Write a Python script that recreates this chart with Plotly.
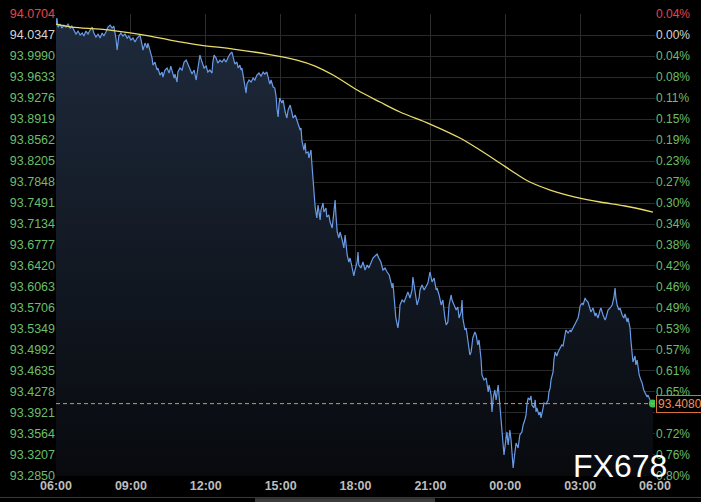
import plotly.graph_objects as go

# ---- data ----
minutes = [
    0, 2, 5, 10, 14, 19, 24, 29, 34, 38, 43, 48, 53, 58, 63, 67, 72, 77, 82, 87,
    91, 96, 101, 106, 111, 115, 120, 125, 130, 135, 139, 142, 144, 147, 149, 151, 156, 161, 166, 171,
    175, 180, 185, 190, 195, 200, 202, 207, 209, 214, 219, 221, 226, 231, 233, 238, 243, 245, 250, 255,
    257, 262, 267, 272, 276, 279, 284, 286, 291, 293, 298, 303, 308, 313, 317, 322, 327, 332, 337, 339,
    344, 346, 351, 356, 361, 365, 370, 375, 377, 380, 385, 389, 394, 399, 404, 409, 413, 418, 423, 426,
    430, 435, 438, 442, 445, 447, 452, 454, 457, 459, 464, 469, 474, 478, 483, 488, 493, 498, 502, 507,
    510, 514, 517, 522, 526, 529, 531, 534, 536, 538, 543, 546, 551, 555, 558, 563, 567, 570, 575, 579,
    582, 587, 589, 591, 596, 599, 601, 606, 608, 613, 615, 618, 620, 623, 627, 630, 635, 637, 642, 644,
    649, 651, 656, 659, 664, 666, 671, 673, 676, 680, 683, 688, 692, 695, 700, 704, 707, 712, 716, 719,
    724, 726, 728, 733, 738, 743, 748, 752, 757, 762, 767, 772, 776, 781, 786, 791, 796, 801, 805, 808,
    810, 815, 817, 822, 825, 827, 832, 837, 841, 846, 851, 856, 858, 861, 865, 868, 873, 875, 880, 885,
    889, 894, 899, 904, 909, 914, 916, 921, 926, 930, 935, 938, 942, 945, 950, 952, 957, 962, 966, 969,
    974, 976, 978, 983, 986, 990, 995, 998, 1002, 1007, 1010, 1014, 1017, 1022, 1024, 1029, 1034, 1039, 1041, 1046,
    1048, 1051, 1055, 1058, 1063, 1065, 1067, 1070, 1072, 1075, 1077, 1079, 1082, 1084, 1087, 1089, 1091, 1094, 1096, 1099,
    1101, 1103, 1106, 1111, 1113, 1115, 1120, 1123, 1127, 1130, 1132, 1135, 1139, 1142, 1144, 1149, 1152, 1154, 1156, 1161,
    1164, 1166, 1171, 1173, 1178, 1183, 1185, 1188, 1190, 1195, 1197, 1200, 1204, 1207, 1212, 1216, 1219, 1224, 1226, 1231,
    1236, 1238, 1243, 1248, 1250, 1255, 1257, 1260, 1265, 1267, 1272, 1274, 1279, 1284, 1286, 1291, 1296, 1298, 1303, 1308,
    1310, 1315, 1320, 1322, 1325, 1327, 1332, 1337, 1341, 1344, 1346, 1349, 1353, 1356, 1361, 1365, 1368, 1373, 1375, 1380,
    1382, 1385, 1387, 1392, 1394, 1397, 1402, 1406, 1409, 1413, 1416, 1421, 1423, 1428, 1430, 1435,
]
prices = [
    94.0517, 94.0636, 94.0483, 94.0534, 94.0466, 94.0517, 94.0483, 94.0534, 94.0466, 94.0500,
    94.0432, 94.0364, 94.0415, 94.0347, 94.0381, 94.0330, 94.0415, 94.0364, 94.0432, 94.0483,
    94.0381, 94.0313, 94.0364, 94.0296, 94.0381, 94.0330, 94.0398, 94.0483, 94.0517, 94.0466,
    94.0500, 94.0398, 94.0296, 94.0092, 94.0177, 94.0330, 94.0381, 94.0330, 94.0364, 94.0296,
    94.0330, 94.0262, 94.0296, 94.0228, 94.0296, 94.0330, 94.0347, 94.0177, 94.0092, 94.0211,
    94.0126, 94.0211, 94.0058, 93.9956, 93.9837, 93.9888, 93.9752, 93.9786, 93.9667, 93.9718,
    93.9633, 93.9752, 93.9786, 93.9701, 93.9820, 93.9752, 93.9616, 93.9684, 93.9548, 93.9718,
    93.9786, 93.9752, 93.9888, 93.9922, 93.9854, 93.9786, 93.9684, 93.9752, 93.9582, 93.9684,
    93.9922, 94.0007, 93.9888, 93.9786, 93.9820, 93.9718, 93.9752, 93.9701, 93.9888, 94.0007,
    93.9956, 93.9871, 93.9922, 93.9888, 93.9939, 93.9888, 93.9956, 94.0024, 94.0058, 93.9956,
    93.9854, 93.9888, 93.9786, 93.9837, 93.9752, 93.9786, 93.9582, 93.9446, 93.9361, 93.9514,
    93.9582, 93.9548, 93.9616, 93.9582, 93.9667, 93.9701, 93.9650, 93.9718, 93.9684, 93.9718,
    93.9616, 93.9514, 93.9582, 93.9463, 93.9446, 93.9310, 93.9106, 93.8953, 93.9157, 93.9276,
    93.9191, 93.9242, 93.9038, 93.8936, 93.9072, 93.9157, 93.9038, 93.8936, 93.8987, 93.8902,
    93.8834, 93.8732, 93.8766, 93.8562, 93.8392, 93.8511, 93.8341, 93.8358, 93.8256, 93.8392,
    93.8171, 93.7882, 93.7627, 93.7423, 93.7236, 93.7457, 93.7202, 93.7372, 93.7491, 93.7338,
    93.7406, 93.7253, 93.7287, 93.7168, 93.7066, 93.7202, 93.7542, 93.7287, 93.6998, 93.6896,
    93.6998, 93.6862, 93.6726, 93.6947, 93.6607, 93.6488, 93.6556, 93.6386, 93.6250, 93.6352,
    93.6488, 93.6658, 93.6437, 93.6386, 93.6488, 93.6352, 93.6437, 93.6386, 93.6488, 93.6556,
    93.6590, 93.6624, 93.6556, 93.6488, 93.6352, 93.6386, 93.6318, 93.6267, 93.6148, 93.6046,
    93.6131, 93.5757, 93.5536, 93.5366, 93.5536, 93.5757, 93.5842, 93.5808, 93.5893, 93.5978,
    93.5876, 93.6012, 93.6233, 93.6097, 93.5927, 93.5757, 93.5876, 93.6012, 93.6097, 93.6012,
    93.6063, 93.6131, 93.6318, 93.6148, 93.6216, 93.6012, 93.6046, 93.5927, 93.5757, 93.5842,
    93.5536, 93.5417, 93.5468, 93.5757, 93.5927, 93.5842, 93.5757, 93.5672, 93.5723, 93.5536,
    93.5638, 93.5842, 93.5536, 93.5332, 93.5366, 93.5162, 93.4907, 93.4958, 93.5196, 93.5298,
    93.5247, 93.5077, 93.5162, 93.4822, 93.4567, 93.4482, 93.4516, 93.4278, 93.4397, 93.4227,
    93.3938, 93.4176, 93.4312, 93.4142, 93.4397, 93.4227, 93.4057, 93.3802, 93.3547, 93.3292,
    93.3207, 93.3326, 93.3462, 93.3598, 93.3377, 93.3496, 93.3632, 93.3462, 93.3207, 93.2986,
    93.3122, 93.3292, 93.3411, 93.3326, 93.3462, 93.3547, 93.3598, 93.3717, 93.3802, 93.3887,
    93.4057, 93.4176, 93.4142, 93.4210, 93.4057, 93.4006, 93.4142, 93.3938, 93.4006, 93.3887,
    93.3938, 93.3836, 93.4006, 93.4091, 93.4074, 93.4142, 93.4278, 93.4346, 93.4482, 93.4618,
    93.4822, 93.4958, 93.4890, 93.4958, 93.5026, 93.5077, 93.5060, 93.5247, 93.5332, 93.5281,
    93.5332, 93.5298, 93.5366, 93.5434, 93.5468, 93.5536, 93.5604, 93.5740, 93.5791, 93.5757,
    93.5876, 93.5842, 93.5808, 93.5706, 93.5638, 93.5706, 93.5570, 93.5621, 93.5536, 93.5672,
    93.5706, 93.5587, 93.5502, 93.5536, 93.5638, 93.5672, 93.5706, 93.5757, 93.5876, 93.6046,
    93.5876, 93.5757, 93.5672, 93.5706, 93.5587, 93.5536, 93.5604, 93.5468, 93.5536, 93.5366,
    93.5162, 93.4856, 93.4788, 93.4890, 93.4737, 93.4822, 93.4567, 93.4482, 93.4431, 93.4312,
    93.4261, 93.4193, 93.4227, 93.4142, 93.4108, 93.4080,
]
avg_minutes = [0, 38, 106, 147, 226, 274, 346, 426, 507, 579, 623, 666, 724, 779, 827,
               899, 971, 1019, 1067, 1103, 1139, 1188, 1248, 1308, 1368, 1435]
avg_prices = [94.0534, 94.0483, 94.0449, 94.0415, 94.0330, 94.0262, 94.0177, 94.0109, 94.0024,
              93.9922, 93.9820, 93.9667, 93.9412, 93.9208, 93.9038, 93.8834, 93.8596, 93.8392,
              93.8171, 93.8001, 93.7848, 93.7712, 93.7593, 93.7508, 93.7440, 93.7338]

last_price = 93.4080
x_tick_vals = [0, 180, 360, 540, 720, 900, 1080, 1260, 1440]
x_tick_text = ["06:00", "09:00", "12:00", "15:00", "18:00", "21:00", "00:00", "03:00", "06:00"]
y_tick_vals = [94.0704, 94.0347, 93.9990, 93.9633, 93.9276, 93.8919, 93.8562, 93.8205,
               93.7848, 93.7491, 93.7134, 93.6777, 93.6420, 93.6063, 93.5706, 93.5349,
               93.4992, 93.4635, 93.4278, 93.3921, 93.3564, 93.3207, 93.2850]
y_tick_text = ["94.0704", "94.0347", "93.9990", "93.9633", "93.9276", "93.8919", "93.8562",
               "93.8205", "93.7848", "93.7491", "93.7134", "93.6777", "93.6420", "93.6063",
               "93.5706", "93.5349", "93.4992", "93.4635", "93.4278", "93.3921", "93.3564",
               "93.3207", "93.2850"]
# the label at 93.3921 is hidden behind the last-price box in the picture
pct_text = ["0.04%", "0.00%", "0.04%", "0.08%", "0.11%", "0.15%", "0.19%", "0.23%", "0.27%",
            "0.30%", "0.34%", "0.38%", "0.42%", "0.46%", "0.49%", "0.53%", "0.57%", "0.61%",
            "0.65%", "", "0.72%", "0.76%", "0.80%"]

RED = "#e5444b"
WHITE = "#d4d4d4"
GREEN = "#6cbd6c"


def colorize(labels):
    out = []
    for i, t in enumerate(labels):
        c = RED if i == 0 else (WHITE if i == 1 else GREEN)
        out.append(f"<span style='color:{c}'>{t}</span>" if t else "")
    return out


y_range = [93.2849, 94.0705]
FONT = "Liberation Sans, Arial"

fig = go.Figure()
fig.add_trace(go.Scatter(
    x=minutes, y=prices, mode="lines",
    line=dict(color="#6a9be6", width=1.2),
    fill="tozeroy",
    fillgradient=dict(type="vertical",
                      colorscale=[[0, "rgb(8,10,14)"], [1, "rgb(30,42,60)"]],
                      start=93.2850, stop=94.0704),
    hoverinfo="skip", showlegend=False,
))
fig.add_trace(go.Scatter(
    x=avg_minutes, y=avg_prices, mode="lines", yaxis="y2",
    line=dict(color="#e8dc6a", width=1.3, shape="spline"),
    hoverinfo="skip", showlegend=False,
))
fig.add_trace(go.Scatter(
    x=[minutes[-1]], y=[prices[-1]], mode="markers",
    marker=dict(color="#3fc24f", size=8),
    hoverinfo="skip", showlegend=False,
))

fig.add_shape(type="line", xref="paper", x0=0, x1=1, yref="y", y0=last_price, y1=last_price,
              line=dict(color="#e8903c", width=1, dash="4px,3px"))
fig.add_annotation(x=1, xref="paper", xanchor="left", xshift=1, y=last_price, yref="y",
                   text="93.4080", showarrow=False,
                   font=dict(color="#f0925a", size=12, family=FONT),
                   bgcolor="#000000", bordercolor="#d8703c", borderwidth=1, borderpad=1)
fig.add_annotation(x=0.9416, xref="paper", y=0.022, yref="paper", text="FX678",
                   showarrow=False, xanchor="center", yanchor="middle",
                   font=dict(color="#ffffff", size=32, family=FONT))
# bottom border / scrollbar
fig.add_shape(type="line", xref="paper", x0=-0.2, x1=1.2, yref="paper", y0=-0.0465, y1=-0.0465,
              line=dict(color="#3a3a3a", width=1))
fig.add_shape(type="rect", xref="paper", x0=0.3322, x1=0.6327, yref="paper", y0=-0.048, y1=-0.07,
              line=dict(width=0), fillcolor="#3c3c3c")

fig.update_layout(
    width=701, height=502,
    margin=dict(l=56, r=46, t=14, b=26, autoexpand=False),
    paper_bgcolor="#000000", plot_bgcolor="#000000",
    font=dict(family=FONT, size=12),
    hovermode=False,
    xaxis=dict(range=[0, 1440], tickvals=x_tick_vals, ticktext=x_tick_text,
               showgrid=True, gridcolor="#2c2c2c", gridwidth=1, zeroline=False,
               showline=False, ticks="", automargin=False, ticklabeloverflow="allow",
               tickfont=dict(color="#bdbdbd", size=12.5, family=FONT, weight="bold")),
    yaxis=dict(range=y_range, tickvals=y_tick_vals, ticktext=colorize(y_tick_text),
               showgrid=True, gridcolor="#2a2a2a", gridwidth=1, zeroline=False,
               showline=False, ticks="", automargin=False, ticklabeloverflow="allow",
               tickfont=dict(size=12.5)),
    yaxis2=dict(range=y_range, overlaying="y", side="right", tickvals=y_tick_vals,
                ticktext=colorize(pct_text), showgrid=False, zeroline=False,
                showline=False, ticks="", automargin=False, ticklabeloverflow="allow",
                tickfont=dict(size=12)),
)

# remove the page's default body margin so the 701x502 figure fills the window
page_js = ("document.body.style.margin='0';document.body.style.padding='0';"
           "document.body.style.background='#000';document.body.style.overflow='hidden';")
fig.write_html("out.html", post_script=page_js, config={"displayModeBar": False})
